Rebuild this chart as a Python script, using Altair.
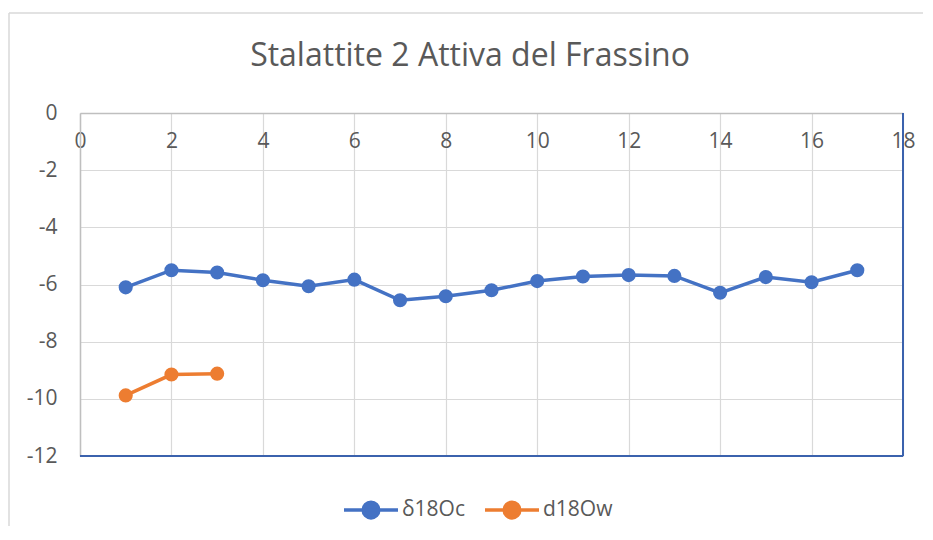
import altair as alt
import pandas as pd

title_text = "Stalattite 2 Attiva del Frassino"
series = ["δ18Oc", "d18Ow"]
colors = ["#4472C4", "#ED7D31"]

x_c = list(range(1, 18))
d18Oc = [-6.1, -5.5, -5.58, -5.85, -6.06, -5.83, -6.55, -6.41, -6.2,
         -5.88, -5.72, -5.67, -5.7, -6.29, -5.74, -5.92, -5.5]
x_w = [1, 2, 3]
d18Ow = [-9.88, -9.15, -9.12]

x_ticks = list(range(0, 19, 2))
y_ticks = list(range(-12, 1, 2))

df = pd.DataFrame({
    "x": x_c + x_w,
    "y": d18Oc + d18Ow,
    "s": [series[0]] * len(x_c) + [series[1]] * len(x_w),
})

W, H = 823, 343
FONT = "Open Sans"
TXT = "#595959"
GRID = "#d9d9d9"
AXC = "#bfbfbf"
EDGE = "#3b62ad"

xenc = alt.X("x:Q", scale=alt.Scale(domain=[0, 18], nice=False, zero=False),
             axis=alt.Axis(values=x_ticks, orient="top", title=None, ticks=False,
                           domainColor=AXC, domainWidth=1.5, gridColor=GRID, gridWidth=1.2,
                           labelFontSize=21, labelColor=TXT, labelFont=FONT,
                           labelPadding=-17, labelBaseline="top", labelFlush=False,
                           labelOverlap=False, labelExpr="'' + datum.value"))
yenc = alt.Y("y:Q", scale=alt.Scale(domain=[-12, 0], nice=False, zero=False),
             axis=alt.Axis(values=y_ticks, orient="left", title=None, ticks=False,
                           domainColor=AXC, domainWidth=1.5, gridColor=GRID, gridWidth=1.2,
                           labelFontSize=21, labelColor=TXT, labelFont=FONT,
                           labelPadding=23, labelFlush=False, labelOverlap=False,
                           labelExpr="'' + datum.value"))

sym = "M-1,0L1,0M0.29,0A0.29,0.29,0,1,1,-0.29,0A0.29,0.29,0,1,1,0.29,0Z"
leg = alt.Legend(title=None, orient="none", direction="horizontal",
                 legendX=262, legendY=368, padding=0,
                 symbolType=sym, symbolSize=2916, symbolStrokeWidth=3.5,
                 labelFontSize=21, labelFont=FONT, labelColor=TXT,
                 labelOffset=2, columnPadding=12)
cscale = alt.Scale(domain=series, range=colors)

one = alt.Data(values=[{"k": 1}])

frame_top = alt.Chart(one).mark_rule(color=GRID, strokeWidth=1.5).encode(
    x=alt.value(-71), x2=alt.value(W + 200), y=alt.value(-100))
frame_left = alt.Chart(one).mark_rule(color=GRID, strokeWidth=1.5).encode(
    x=alt.value(-71), y=alt.value(-100), y2=alt.value(H + 250))

title = alt.Chart(one).mark_text(text=title_text, font=FONT, fontSize=32, color=TXT,
                                 align="center", baseline="alphabetic").encode(
    x=alt.value(390), y=alt.value(-47))

base = alt.Chart(df)
lines = base.mark_line(strokeWidth=3.5).encode(
    x=xenc, y=yenc, color=alt.Color("s:N", sort=series, scale=cscale, legend=leg))
points = base.mark_circle(size=200, opacity=1).encode(
    x="x:Q", y="y:Q", color=alt.Color("s:N", sort=series, scale=cscale, legend=leg))

right_edge = alt.Chart(one).mark_rule(color=EDGE, strokeWidth=2).encode(
    x=alt.value(W), y=alt.value(0), y2=alt.value(H))
bottom_edge = alt.Chart(one).mark_rule(color=EDGE, strokeWidth=2).encode(
    x=alt.value(0), x2=alt.value(W), y=alt.value(H))

chart = alt.layer(frame_top, frame_left, title, lines, points, right_edge, bottom_edge).properties(
    width=W, height=H,
    autosize=alt.AutoSizeParams(type="none"),
    padding={"left": 72, "top": 105, "right": 20, "bottom": 70},
).configure_view(stroke=None).configure(background="white")

chart.save("out.html", embed_options={"renderer": "svg", "actions": False})
